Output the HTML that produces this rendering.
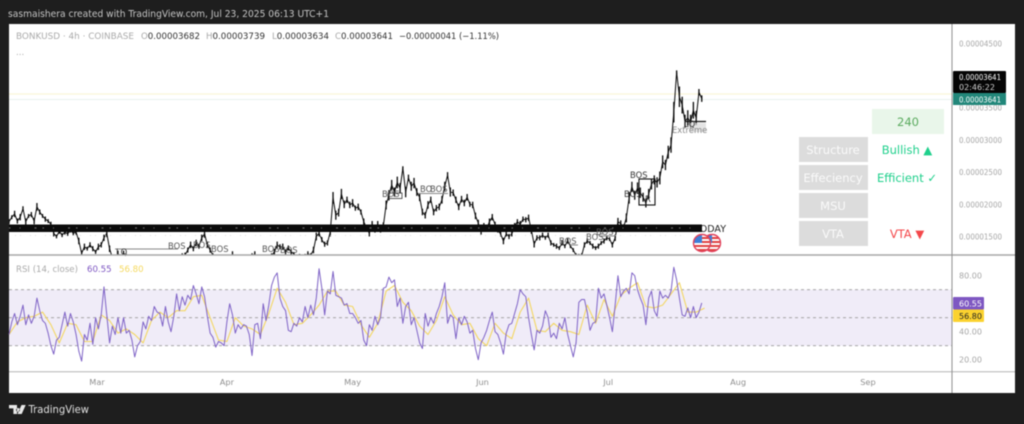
<!DOCTYPE html>
<html lang="en">
<head>
<meta charset="utf-8">
<title>BONKUSD 4h chart</title>
<style>
html,body{margin:0;padding:0;background:#1e1e1e;}
body{width:1024px;height:424px;overflow:hidden;}
svg{display:block;filter:blur(0.4px);}
text{font-family:"DejaVu Sans","Liberation Sans",sans-serif;}
</style>
</head>
<body>
<svg id="chart" xmlns="http://www.w3.org/2000/svg" width="1024" height="424" viewBox="0 0 1024 424">
  <defs>
    <clipPath id="price-clip"><rect x="9" y="24" width="943" height="231"/></clipPath>
    <clipPath id="flag-clip-a"><circle cx="702" cy="243" r="8"/></clipPath>
    <clipPath id="flag-clip-b"><circle cx="712" cy="243" r="8"/></clipPath>
  </defs>
  <rect x="0" y="0" width="1024" height="424" fill="#1e1e1e"/>
  <text x="8" y="17" font-size="9.5" fill="#c4c4c4" textLength="321" lengthAdjust="spacingAndGlyphs">sasmaishera created with TradingView.com, Jul 23, 2025 06:13 UTC+1</text>
  <rect x="9" y="24" width="1006" height="369" fill="#ffffff"/>

  <g font-size="8.6">
    <text x="16" y="39" fill="#aaaaaa" textLength="118" lengthAdjust="spacingAndGlyphs">BONKUSD · 4h · COINBASE</text>
    <text x="141" y="39" fill="#333" textLength="59" lengthAdjust="spacingAndGlyphs"><tspan fill="#aaa">O</tspan>0.00003682</text>
    <text x="206" y="39" fill="#333" textLength="59" lengthAdjust="spacingAndGlyphs"><tspan fill="#aaa">H</tspan>0.00003739</text>
    <text x="272" y="39" fill="#333" textLength="57" lengthAdjust="spacingAndGlyphs"><tspan fill="#aaa">L</tspan>0.00003634</text>
    <text x="335" y="39" fill="#333" textLength="58" lengthAdjust="spacingAndGlyphs"><tspan fill="#aaa">C</tspan>0.00003641</text>
    <text x="399" y="39" fill="#333" textLength="100" lengthAdjust="spacingAndGlyphs">−0.00000041 (−1.11%)</text>
    <text x="16" y="55" fill="#aaaaaa">...</text>
  </g>

  <line x1="9" x2="952" y1="94" y2="94" stroke="#fbf6d8" stroke-width="1.2"/>
  <line x1="9" x2="952" y1="99.5" y2="99.5" stroke="#e8f1ee" stroke-width="1"/>

  <g id="price-layer" clip-path="url(#price-clip)"></g>

  <g>
    <text x="694" y="232" font-size="9.5" fill="#222">TODAY</text>
    <rect x="9" y="224.5" width="693" height="7.5" fill="#0b0b0b"/>
    <line x1="9" x2="702" y1="228" y2="228" stroke="#666" stroke-width="1.2" stroke-dasharray="1.5 9 1 14 2 6"/>
    <line x1="15" x2="690" y1="235.5" y2="235.5" stroke="#d4d4d4" stroke-width="0.8" stroke-dasharray="1 4 1 9"/>
  </g>

  <g font-size="8.4" fill="#555">
    <line x1="115" x2="178" y1="249" y2="249" stroke="#888"/>
    <text x="168" y="249">BOS</text>
    <text x="193" y="248">BOS</text>
    <text x="211" y="252">BOS</text>
    <text x="262" y="252">BOS</text>
    <text x="280" y="253">BOS</text>
    <text x="116" y="255" fill="#333">LQ</text>
    <rect x="388" y="193" width="14" height="5.5" fill="none" stroke="#333" stroke-width="0.8"/>
    <text x="382" y="197">BOS</text>
    <line x1="418" x2="448" y1="193.5" y2="193.5" stroke="#888"/>
    <text x="420" y="192">BO</text>
    <text x="430" y="192">BOS</text>
    <line x1="570" x2="578" y1="245" y2="245" stroke="#888"/>
    <text x="559" y="244">BOS</text>
    <text x="586" y="240">BOS</text>
    <text x="596" y="235">BOS</text>
    <line x1="600" x2="615" y1="236" y2="236" stroke="#888"/>
    <text x="630" y="178" fill="#333">BOS</text>
    <text x="624" y="197" fill="#333">BOS</text>
    <text x="645" y="202" fill="#333">R</text>
    <rect x="639" y="179" width="16" height="26" fill="none" stroke="#111" stroke-width="1.1"/>
    <rect x="690" y="123" width="16" height="9" fill="#d8d8d8" opacity="0.7"/>
    <text x="672" y="133" fill="#888">Extreme</text>
    <line x1="685" x2="706" y1="121.5" y2="121.5" stroke="#111" stroke-width="1.2"/>
    <text x="684" y="127" fill="#333">LQ</text>
  </g>

  <g>
    <g clip-path="url(#flag-clip-b)">
      <rect x="703" y="234" width="18" height="18" fill="#fff"/>
      <rect x="703" y="237" width="18" height="2" fill="#e04040"/><rect x="703" y="241" width="18" height="2" fill="#e04040"/><rect x="703" y="245" width="18" height="2" fill="#e04040"/><rect x="703" y="249" width="18" height="2" fill="#e04040"/>
      <rect x="703" y="234" width="9" height="9" fill="#3d7fd9"/>
    </g>
    <circle cx="712" cy="243" r="8.5" fill="none" stroke="#e0405a" stroke-width="1.4"/>
    <g clip-path="url(#flag-clip-a)">
      <rect x="693" y="234" width="18" height="18" fill="#fff"/>
      <rect x="693" y="237" width="18" height="2" fill="#e04040"/><rect x="693" y="241" width="18" height="2" fill="#e04040"/><rect x="693" y="245" width="18" height="2" fill="#e04040"/><rect x="693" y="249" width="18" height="2" fill="#e04040"/>
      <rect x="693" y="234" width="9" height="9" fill="#3d7fd9"/>
    </g>
    <circle cx="702" cy="243" r="8.5" fill="none" stroke="#e0405a" stroke-width="1.4"/>
  </g>

  <g text-anchor="middle" font-size="11.5">
    <rect x="872" y="109" width="72" height="25" fill="#e9f6ea"/>
    <text x="908" y="126" fill="#5aaa5e">240</text>
    <rect x="799" y="137" width="69" height="25" fill="#dcdcdc"/>
    <text x="833" y="154" fill="#fafafa">Structure</text>
    <rect x="799" y="165" width="69" height="25" fill="#dcdcdc"/>
    <text x="833" y="182" fill="#fafafa">Effeciency</text>
    <rect x="799" y="193" width="69" height="25" fill="#dcdcdc"/>
    <text x="833" y="210" fill="#fafafa">MSU</text>
    <rect x="799" y="221" width="69" height="25" fill="#dcdcdc"/>
    <text x="833" y="238" fill="#fafafa">VTA</text>
    <text x="907" y="154" fill="#1fd08c">Bullish ▲</text>
    <text x="907" y="182" fill="#1fd08c">Efficient ✓</text>
    <text x="907" y="238" fill="#f4474a">VTA ▼</text>
  </g>

  <g id="rsi-layer"></g>
  <text x="16" y="272" font-size="8.6" fill="#aaa">RSI (14, close)</text>
  <text x="87" y="272" font-size="8.6" fill="#7e57c2">60.55</text>
  <text x="119" y="272" font-size="8.6" fill="#f5d95e">56.80</text>

  <line x1="9" x2="1015" y1="255" y2="255" stroke="#a8a8a8" stroke-width="1.4"/>
  <line x1="9" x2="1015" y1="371.7" y2="371.7" stroke="#b4b4b4" stroke-width="1"/>
  <line x1="952" x2="952" y1="24" y2="393" stroke="#8f8f8f" stroke-width="1"/>

  <g id="axis-layer"></g>

  <g font-size="8" fill="#fff">
    <rect x="953" y="71" width="53" height="22" fill="#050505" rx="1"/>
    <text x="959" y="80" textLength="42" lengthAdjust="spacingAndGlyphs">0.00003641</text>
    <text x="959" y="90" fill="#cfcfcf">02:46:22</text>
    <rect x="953" y="93" width="53" height="12" fill="#22877a"/>
    <text x="959" y="102.5" textLength="42" lengthAdjust="spacingAndGlyphs">0.00003641</text>
    <rect x="953" y="297" width="31" height="12.5" fill="#7e57c2" rx="1"/>
    <text x="959" y="306.5">60.55</text>
    <rect x="953" y="309.5" width="31" height="12.5" fill="#fbd22f" rx="1"/>
    <text x="959" y="319" fill="#222">56.80</text>
  </g>

  <g>
    <path d="M9 405h8v9h-3.6v-5.6H9z M18 408a1.9 1.9 0 1 0 .01 0z M21.5 405h4.2l-4 9h-4.2z" fill="#e8e8e8"/>
    <text x="28.5" y="413" font-size="10.5" fill="#e0e0e0" textLength="60.5" lengthAdjust="spacingAndGlyphs">TradingView</text>
  </g>
</svg>
<script>
// Time axis: day offsets from Mar 1
const monthLabels = ["Mar","Apr","May","Jun","Jul","Aug","Sep"];
const monthDays = [0,31,61,92,122,153,184];
const seriesStartDay = -21;
const seriesStepDays = 2/3;
const maStepDays = 2;

// Price axis
const priceTickLabels = ["0.00004500","0.00003500","0.00003000","0.00002500","0.00002000","0.00001500"];
const priceTickValues = [45,35,30,25,20,15];

// Close price, in millionths
const priceValues = [
17.3,18,18.5,17.4,18,19.3,17.3,18.2,18.4,17.4,
19.6,18.8,18.2,17.7,17.4,16.9,15.5,15,15.8,15.2,
15.7,15.4,16,15.5,15.7,14.3,12.4,13.4,13.1,13.7,
13.1,12.6,13.4,13.7,14.8,15.5,13.1,11.7,11.1,12.3,
11.7,12.4,12,11.1,10.4,9.8,9.5,9.8,9.2,9.8,
9.5,10.1,9.8,10.4,10.1,10.7,10.4,11.1,11.3,11.1,
11.7,11.4,12,12.1,12.9,13.7,13.1,14,13.5,14.8,
15.4,13.7,12.9,12.1,11,11.7,11,10.7,11.7,11,
12.3,11.4,11.7,11,10.7,11.4,11.7,12,12.3,11.7,
11.4,11,11.7,11.4,12,12.6,13.7,13.4,13.4,12.6,
13.2,12.6,12.3,11.7,12,11.7,12,12.3,12.1,12.9,
15,15.5,14.5,13.8,14,15.7,21,18.3,18.7,21.6,
20,20.7,19.9,20.2,19.4,19.6,18.8,17.3,16.3,15.5,
16.9,16,16.9,16,16.6,19.9,21.4,23,21.9,23.4,
22.5,25.6,21.9,24.1,22.8,23.3,21.9,21.1,18.8,18.3,
19.9,20.7,18.8,19.4,19.6,20.7,22.8,24.5,21.9,21.8,
20.7,19.6,20.8,20.2,21.1,20,19.9,18.2,17.1,15.7,
16.6,16.2,17.3,18,16.9,16,15.4,14.3,15.4,15,
15.4,16.6,17.3,16.9,17.7,17.6,17.9,16,13.8,14.8,
14.8,15.2,14.8,15.2,14,13.7,13.5,13.2,14,13.5,
14.3,13.5,12.9,12.1,12,12,13.7,14.3,14,13.5,
13.2,13.5,14,14.3,14.8,14.6,13.7,14.8,17.3,17,
16.4,17.9,21,22.7,21.4,22.5,21.8,21.1,20.2,21.6,
23.1,23.8,23.4,24.1,26.6,26.1,28.1,29.2,34.3,40.5,
36.7,35.4,32.9,33.4,32.8,34.6,33.4,37.4,36.41
];

// High-low half range of each bar, in millionths
const priceRangeValues = [
0.4,0.3,0.5,0.4,0.5,0.4,0.5,0.3,0.4,0.5,
0.6,0.4,0.3,0.4,0.3,0.4,0.5,0.3,0.4,0.3,
0.4,0.3,0.4,0.3,0.4,0.5,0.4,0.5,0.3,0.4,
0.4,0.3,0.5,0.4,0.5,0.6,0.5,0.3,0.4,0.5,
0.3,0.4,0.3,0.4,0.3,0.3,0.3,0.3,0.3,0.3,
0.3,0.3,0.3,0.4,0.3,0.3,0.3,0.3,0.4,0.3,
0.3,0.3,0.4,0.4,0.4,0.5,0.4,0.5,0.4,0.5,
0.6,0.5,0.4,0.3,0.3,0.3,0.3,0.3,0.4,0.3,
0.4,0.3,0.3,0.3,0.3,0.3,0.3,0.4,0.4,0.3,
0.3,0.3,0.3,0.3,0.4,0.5,0.5,0.4,0.5,0.4,
0.4,0.4,0.3,0.3,0.3,0.3,0.3,0.4,0.3,0.5,
0.6,0.5,0.4,0.4,0.4,0.7,0.9,0.7,0.6,0.8,
0.6,0.5,0.5,0.6,0.4,0.5,0.4,0.5,0.4,0.5,
0.5,0.4,0.5,0.4,0.6,0.7,0.8,0.8,0.7,0.9,
0.8,0.3,0.8,0.5,0.7,0.8,0.6,0.6,0.5,0.5,
0.6,0.5,0.5,0.5,0.5,0.6,0.7,0.5,0.7,0.5,
0.5,0.5,0.5,0.5,0.5,0.4,0.5,0.5,0.5,0.4,
0.5,0.4,0.5,0.5,0.4,0.4,0.4,0.5,0.4,0.4,
0.4,0.5,0.4,0.5,0.4,0.4,0.5,0.6,0.5,0.4,
0.4,0.4,0.3,0.4,0.4,0.3,0.4,0.3,0.4,0.3,
0.4,0.3,0.3,0.3,0.3,0.4,0.4,0.4,0.3,0.4,
0.3,0.4,0.3,0.4,0.4,0.3,0.4,0.5,0.6,0.5,
0.5,0.7,0.9,0.8,0.7,0.9,0.8,0.7,0.7,0.8,
0.8,0.7,0.8,1,1,0.8,1,1.2,1.6,0.3,
1.6,1.3,1,1.2,1.1,1.3,1.1,0.5,0.5
];

// RSI axis
const rsiTickLabels = ["80.00","40.00","20.00"];
const rsiTickValues = [80,40,20];
const rsiLevels = [70,50,30];

const rsiValues = [
38,47,53,45,51,59,45,52,46,51,
64,55,48,46,39,30,24,34,36,45,
54,44,53,47,38,26,19,38,34,46,
31,50,42,52,72,52,32,44,38,50,
39,50,39,41,34,22,30,33,47,42,
51,48,58,54,53,44,58,47,40,51,
67,55,65,59,66,63,73,67,60,72,
65,51,39,36,29,33,32,30,47,60,
52,39,45,42,45,44,38,23,45,46,
35,60,48,59,73,79,82,64,58,55,
41,40,46,44,50,47,58,50,59,52,
64,85,71,52,69,67,83,66,65,64,
59,60,53,53,50,46,48,34,30,45,
41,51,45,50,71,72,79,75,77,58,
64,46,58,61,45,50,41,32,28,53,
44,50,46,53,58,65,75,46,52,50,
35,50,45,51,47,39,41,28,20,32,
36,41,48,54,40,38,32,24,39,45,
46,53,60,70,67,65,50,38,27,41,
39,44,55,50,36,39,35,46,42,50,
38,30,22,32,61,63,63,54,41,46,
47,71,64,67,59,50,40,59,80,65,
69,71,67,82,80,70,64,59,45,64,
69,55,51,69,64,66,64,69,86,77,
64,52,51,57,50,58,50,54,60.55
];

const rsiMaValues = [
38,47,50,51,54,45,32,46,45,33,
33,52,48,39,42,38,32,48,54,50,
55,55,65,66,50,34,33,50,44,42,
38,53,71,61,45,46,52,59,69,69,
59,58,45,36,46,69,73,61,55,44,
38,48,65,52,45,46,35,30,46,39,
35,54,64,41,40,46,41,40,38,59,
46,63,51,66,71,75,58,57,59,67,
75,54,54,56.8
];

const SVGNS = "http://www.w3.org/2000/svg";
const xOf = day => 97 + 4.19 * day;
const yPrice = p => 107.7 + (35 - p) * 6.44;
const yRsi = r => 317.7 + (50 - r) * 1.4;
const seriesPath = (values, yFn, step) => values.map((v, i) =>
  (i ? "L" : "M") + xOf(seriesStartDay + i * step).toFixed(2) + " " + yFn(v).toFixed(2)).join("");
const wickPath = (values, ranges, yFn, step) => values.map((v, i) => {
  const x = xOf(seriesStartDay + i * step).toFixed(2);
  return "M" + x + " " + yFn(v + ranges[i]).toFixed(2) + "V" + yFn(v - ranges[i]).toFixed(2);
}).join("");

function make(tag, attrs, parent) {
  const el = document.createElementNS(SVGNS, tag);
  for (const k in attrs) el.setAttribute(k, attrs[k]);
  parent.appendChild(el);
  return el;
}

const priceLayer = document.getElementById("price-layer");
const rsiLayer = document.getElementById("rsi-layer");
const axisLayer = document.getElementById("axis-layer");

const priceWicks = make("path", {d: wickPath(priceValues, priceRangeValues, yPrice, seriesStepDays), fill: "none", stroke: "#0a0a0a", "stroke-width": 1.3}, priceLayer);



const priceLine = make("path", {d: seriesPath(priceValues, yPrice, seriesStepDays), fill: "none", stroke: "#0a0a0a", "stroke-width": 1, "stroke-linejoin": "round"}, priceLayer);



const rsiBand = make("rect", {x: 9, width: 943, y: yRsi(rsiLevels[0]), height: yRsi(rsiLevels[2]) - yRsi(rsiLevels[0]), fill: "#f0ecf8"}, rsiLayer);



rsiLevels.forEach(level => {
  const l = make("line", {x1: 9, x2: 952, y1: yRsi(level), y2: yRsi(level), stroke: "#9a9a9a", "stroke-width": 0.9, "stroke-dasharray": "3 3"}, rsiLayer);
  
  
});

const rsiMaLine = make("path", {d: seriesPath(rsiMaValues, yRsi, maStepDays), fill: "none", stroke: "#f3d763", "stroke-width": 1.1, "stroke-linejoin": "round"}, rsiLayer);



const rsiLine = make("path", {d: seriesPath(rsiValues, yRsi, seriesStepDays), fill: "none", stroke: "#7e62c6", "stroke-width": 1, "stroke-linejoin": "round"}, rsiLayer);



priceTickLabels.forEach((label, i) => {
  const t = make("text", {x: 959, y: yPrice(priceTickValues[i]) + 3, "font-size": 7.8, fill: "#a6a6a6", textLength: 43, lengthAdjust: "spacingAndGlyphs"}, axisLayer);
  t.textContent = label;
  
  
});

rsiTickLabels.forEach((label, i) => {
  const t = make("text", {x: 959, y: yRsi(rsiTickValues[i]) + 3, "font-size": 8, fill: "#a6a6a6"}, axisLayer);
  t.textContent = label;
  
  
});

monthLabels.forEach((label, i) => {
  const t = make("text", {x: xOf(monthDays[i]), y: 385, "font-size": 8.2, fill: "#8f8f8f", "text-anchor": "middle"}, axisLayer);
  t.textContent = label;
  
  
});
</script>
</body>
</html>
